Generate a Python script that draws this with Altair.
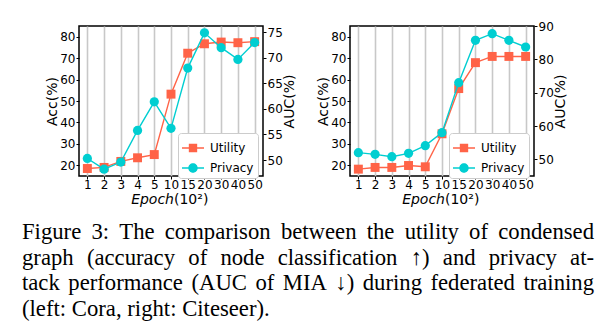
import altair as alt
import pandas as pd

# ---------------- data ----------------
epochs = ["1", "2", "3", "4", "5", "10", "15", "20", "30", "40", "50"]
cora_utility = [18.5, 19.0, 21.8, 23.5, 25.0, 53.2, 72.3, 76.7, 77.5, 77.2, 77.7]
cora_privacy = [50.3, 48.2, 49.6, 55.8, 61.4, 56.2, 68.0, 74.9, 72.0, 69.7, 73.0]
citeseer_utility = [18.2, 19.0, 19.0, 19.9, 19.3, 34.7, 55.8, 67.9, 70.8, 70.8, 70.8]
citeseer_privacy = [52.0, 51.5, 50.8, 51.8, 54.1, 58.0, 73.0, 85.7, 87.7, 85.7, 83.7]
series_names = ["Utility", "Privacy"]
acc_ticks = [20, 30, 40, 50, 60, 70, 80]
cora_auc_ticks = [50, 55, 60, 65, 70, 75]
citeseer_auc_ticks = [50, 60, 70, 80, 90]
xtitle_parts = ["Epoch", "(10²)"]
caption_lines = [
    "Figure 3: The comparison between the utility of condensed",
    "graph (accuracy of node classification ↑) and privacy at-",
    "tack performance (AUC of MIA ↓) during federated training",
    "(left: Cora, right: Citeseer).",
]

# ---------------- styles ----------------
UTIL_COLOR = "#FF6347"
PRIV_COLOR = "#00CED1"
W, H = 184, 150
ACC_DOMAIN = [15, 85]
CORA_AUC_DOMAIN = [46.87, 76.24]
CITESEER_AUC_DOMAIN = [45, 90]
SQ_PATH = "M-1,-0.06H1V0.06H-1Z M-0.38,-0.38H0.38V0.38H-0.38Z"
CI_PATH = "M-1,-0.06H1V0.06H-1Z M0.43,0A0.43,0.43 0 1,1 -0.43,0A0.43,0.43 0 1,1 0.43,0Z"
TICK_FS = 12
TITLE_FS = 14


def spacer(px, py):
    # invisible layout anchor that fixes the panel's bounding box
    return alt.Chart(pd.DataFrame({"s": [0]})).mark_point(
        size=1, opacity=0, filled=True
    ).encode(x=alt.value(px), y=alt.value(py))


def panel(util, priv, auc_domain, auc_ticks, anchors):
    df = pd.DataFrame({"epoch": epochs, "acc": util, "auc": priv})
    base = alt.Chart(df)
    x = alt.X(
        "epoch:N", sort=epochs,
        scale=alt.Scale(type="point", padding=0.5),
        axis=alt.Axis(title=None, labelAngle=0, grid=True, gridColor="#c8c8c8",
                      gridWidth=1.6, labelOverlap=False, labelPadding=0),
    )
    y_acc = alt.Y(
        "acc:Q", scale=alt.Scale(domain=ACC_DOMAIN, nice=False, zero=False),
        axis=alt.Axis(title="Acc(%)", values=acc_ticks, orient="left", grid=False),
    )
    y_auc = alt.Y(
        "auc:Q", scale=alt.Scale(domain=auc_domain, nice=False, zero=False),
        axis=alt.Axis(title="AUC(%)", values=auc_ticks, orient="right", grid=False,
                      titleAngle=270, titleBaseline="top"),
    )
    acc_layer = alt.layer(
        base.mark_line(color=UTIL_COLOR, strokeWidth=1.4).encode(x=x, y=y_acc),
        base.mark_point(shape="square", filled=True, size=80, color=UTIL_COLOR,
                        opacity=1).encode(x=x, y=y_acc),
    )
    auc_layer = alt.layer(
        base.mark_line(color=PRIV_COLOR, strokeWidth=1.4).encode(x=x, y=y_auc),
        base.mark_point(shape="circle", filled=True, size=85, color=PRIV_COLOR,
                        opacity=1).encode(x=x, y=y_auc),
    )
    leg = alt.Legend(
        title=None, orient="none", legendX=99, legendY=107,
        labelFont="DejaVu Sans", labelFontSize=12, labelColor="black",
        symbolSize=484, fillColor="white", strokeColor="#cccccc",
        cornerRadius=3, padding=4, rowPadding=3, labelOffset=6,
        symbolStrokeWidth=0, symbolOpacity=1,
    )
    legend_layer = alt.Chart(pd.DataFrame({"series": series_names})).mark_point(
        filled=True, opacity=0
    ).encode(
        x=alt.value(0), y=alt.value(0),
        color=alt.Color("series:N", scale=alt.Scale(domain=series_names,
                                                    range=[UTIL_COLOR, PRIV_COLOR]), legend=leg),
        shape=alt.Shape("series:N", scale=alt.Scale(domain=series_names,
                                                    range=[SQ_PATH, CI_PATH]), legend=leg),
    )
    xt1 = alt.Chart(pd.DataFrame({"t": [xtitle_parts[0]]})).mark_text(
        font="DejaVu Sans", fontStyle="italic", fontSize=TITLE_FS, align="right",
        baseline="middle", color="black"
    ).encode(x=alt.value(95), y=alt.value(174), text="t:N")
    xt2 = alt.Chart(pd.DataFrame({"t": [xtitle_parts[1]]})).mark_text(
        font="DejaVu Sans", fontSize=TITLE_FS, align="left",
        baseline="middle", color="black"
    ).encode(x=alt.value(95), y=alt.value(174), text="t:N")
    layers = [acc_layer, auc_layer, legend_layer, xt1, xt2] + [spacer(a, b) for a, b in anchors]
    return alt.layer(*layers).resolve_scale(y="independent").properties(
        width=W, height=H, view=alt.ViewBackground(stroke="black", strokeWidth=1.5))


left = panel(cora_utility, cora_privacy, CORA_AUC_DOMAIN, cora_auc_ticks,
             anchors=[(224, -8)])
right = panel(citeseer_utility, citeseer_privacy, CITESEER_AUC_DOMAIN, citeseer_auc_ticks,
              anchors=[(-43, -8)])
top = alt.hconcat(left, right, spacing=0).resolve_scale(
    color="independent", shape="independent"
).resolve_legend(color="independent", shape="independent")

# ---------------- caption (justified, Times metrics) ----------------
TIMES = {
    "a": 444, "b": 500, "c": 444, "d": 500, "e": 444, "f": 333, "g": 500, "h": 500,
    "i": 278, "j": 278, "k": 500, "l": 278, "m": 778, "n": 500, "o": 500, "p": 500,
    "q": 500, "r": 333, "s": 389, "t": 278, "u": 500, "v": 500, "w": 722, "x": 500,
    "y": 500, "z": 444, "A": 722, "C": 667, "F": 556, "I": 333, "M": 889, "T": 611,
    "U": 722, "3": 500, "(": 333, ")": 333, ":": 278, ",": 250, ".": 250, "-": 333,
    "↑": 500, "↓": 500,
}
CAP_FS = 22.7
CAP_X = -57
CAP_W = 572
CAP_Y0 = 11
CAP_LH = 25.5


def word_width(w):
    return sum(TIMES.get(ch, 500) for ch in w) / 1000 * CAP_FS


rows = []
for i, line in enumerate(caption_lines):
    words = line.split(" ")
    ws = [word_width(w) for w in words]
    justify = i < len(caption_lines) - 1
    gap = (CAP_W - sum(ws)) / (len(words) - 1) if justify else 0.25 * CAP_FS
    pos = 0.0
    for j, w in enumerate(words):
        last = justify and j == len(words) - 1
        rows.append({"word": w, "x": CAP_X + (CAP_W if last else pos),
                     "y": CAP_Y0 + i * CAP_LH, "end": "yes" if last else "no"})
        pos += ws[j] + gap
cap_df = pd.DataFrame(rows)
cap_base = alt.Chart(cap_df)
cap_enc = dict(x=alt.X("x:Q", scale=None, axis=None), y=alt.Y("y:Q", scale=None, axis=None),
               text="word:N")
caption = alt.layer(
    cap_base.transform_filter(alt.datum.end == "no").mark_text(
        font="Liberation Serif", fontSize=CAP_FS, align="left", baseline="middle",
        color="black").encode(**cap_enc),
    cap_base.transform_filter(alt.datum.end == "yes").mark_text(
        font="Liberation Serif", fontSize=CAP_FS, align="right", baseline="middle",
        color="black").encode(**cap_enc),
).properties(width=300, height=90)

chart = alt.vconcat(top, caption, spacing=12).properties(
    padding={"left": 13, "top": 8, "right": 0, "bottom": 0},
    background="white",
).configure_view(stroke="transparent").configure_axis(
    labelFont="DejaVu Sans", labelFontSize=TICK_FS, labelColor="black",
    titleFont="DejaVu Sans", titleFontSize=TITLE_FS, titleFontWeight="normal",
    titleColor="black", tickColor="black", tickSize=3, tickWidth=1, domain=False,
    labelPadding=1, titlePadding=0,
)

chart.save("out.html", embed_options={"renderer": "svg", "actions": False})
